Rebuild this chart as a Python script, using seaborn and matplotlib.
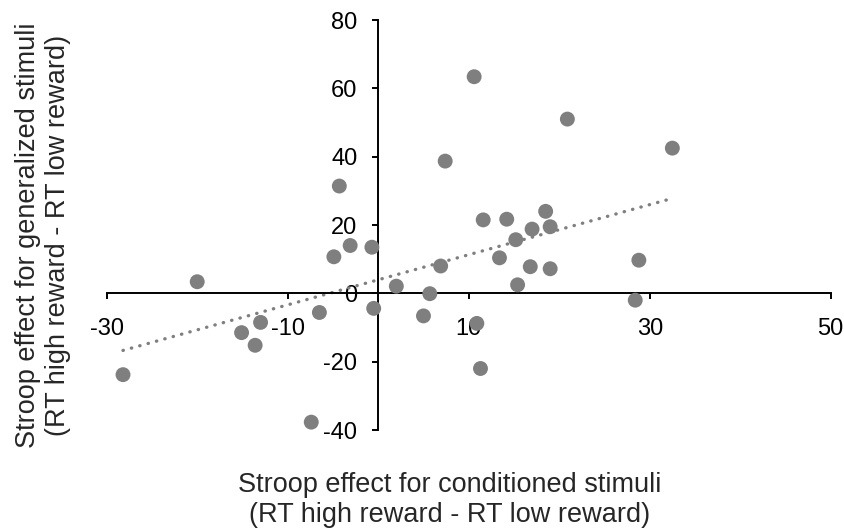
import numpy as np
import pandas as pd
import matplotlib
matplotlib.use("Agg")
import matplotlib.pyplot as plt
import seaborn as sns

# Stroop effect values
conditioned = [-28.2, -20.0, -15.1, -13.0, -13.6, -6.5, -7.4, -4.9, -3.1, -4.3,
               -0.7, -0.5, 2.0, 10.6, 7.4, 20.9, 32.5, 11.6, 14.2, 18.5,
               17.0, 19.0, 15.2, 13.4, 6.9, 16.8, 19.0, 28.8, 15.4, 5.7,
               5.0, 28.4, 10.9, 11.3]
generalized = [-23.8, 3.4, -11.5, -8.5, -15.2, -5.6, -37.7, 10.7, 14.0, 31.4,
               13.5, -4.4, 2.1, 63.4, 38.7, 51.0, 42.5, 21.5, 21.7, 24.0,
               18.8, 19.5, 15.7, 10.4, 8.0, 7.8, 7.2, 9.7, 2.5, -0.1,
               -6.6, -2.0, -8.8, -22.0]
x_ticks = [-30, -10, 10, 30, 50]
y_ticks = [-40, -20, 0, 20, 40, 60, 80]

x_label = "Stroop effect for conditioned stimuli\n(RT high reward - RT low reward)"
y_label = "Stroop effect for generalized stimuli\n(RT high reward - RT low reward)"


def main():
    sns.set_style("white")
    plt.rcParams["font.family"] = ["Liberation Sans", "DejaVu Sans"]
    plt.rcParams["axes.unicode_minus"] = False

    df = pd.DataFrame({"cond": conditioned, "gen": generalized})
    gray = "#7f7f7f"

    fig = plt.figure(figsize=(8.45, 5.32), dpi=100)
    ax = fig.add_axes([0.1263, 0.1917, 0.8568, 0.7707])

    sns.scatterplot(data=df, x="cond", y="gen", ax=ax, color=gray,
                    s=115, edgecolor="none", zorder=3)
    sns.regplot(data=df, x="cond", y="gen", ax=ax, scatter=False, ci=None,
                line_kws={"color": gray, "lw": 2.4,
                          "linestyle": (0, (0.1, 2.5)),
                          "dash_capstyle": "round", "zorder": 2})

    ax.set_xlim(-30, 50)
    ax.set_ylim(-40, 80)
    ax.set_xticks(x_ticks)
    ax.set_yticks(y_ticks)
    ax.set_xlabel("")
    ax.set_ylabel("")

    # axes cross at the origin
    ax.spines["left"].set_position(("data", 0))
    ax.spines["bottom"].set_position(("data", 0))
    ax.spines["top"].set_visible(False)
    ax.spines["right"].set_visible(False)
    for side in ["left", "bottom"]:
        ax.spines[side].set_linewidth(1.4)
        ax.spines[side].set_color("black")

    ax.tick_params(axis="both", direction="out", length=4.5, width=1.4,
                   colors="black", labelsize=17, bottom=True, left=True)
    ax.tick_params(axis="x", pad=13)
    ax.tick_params(axis="y", pad=10.5)

    fig.text(450 / 845, 1 - 500 / 532, x_label, ha="center", va="center",
             fontsize=19.5, linespacing=1.2)
    fig.text(43 / 845, 1 - 235 / 532, y_label, ha="center", va="center",
             rotation=90, fontsize=19.5, linespacing=1.2)

    fig.savefig("out.png", dpi=100)


if __name__ == "__main__":
    main()
